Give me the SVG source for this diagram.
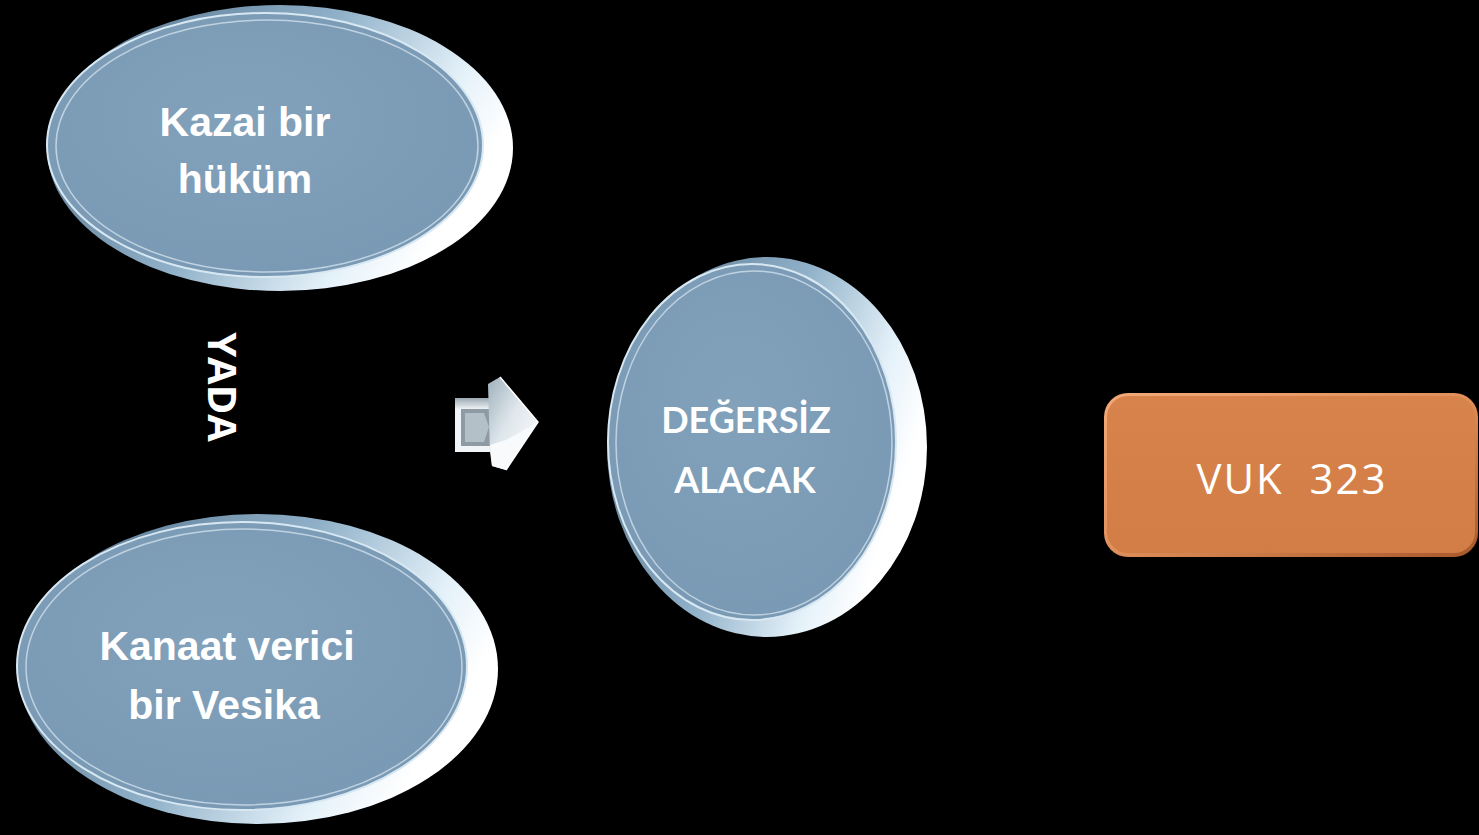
<svg xmlns="http://www.w3.org/2000/svg" width="1479" height="835" viewBox="0 0 1479 835">
<defs>
<linearGradient id="rim" x1="0" y1="0" x2="1" y2="0.4">
<stop offset="0" stop-color="#4d6a84"/>
<stop offset="0.55" stop-color="#8fb0c8"/>
<stop offset="0.85" stop-color="#e4f1f9"/>
<stop offset="1" stop-color="#ffffff"/>
</linearGradient>
<radialGradient id="face" cx="0.45" cy="0.4" r="0.7">
<stop offset="0" stop-color="#82a1bb"/>
<stop offset="1" stop-color="#7898b3"/>
</radialGradient>
<linearGradient id="orange" x1="0" y1="0" x2="0" y2="1">
<stop offset="0" stop-color="#d7834b"/>
<stop offset="1" stop-color="#d27d45"/>
</linearGradient>
<linearGradient id="orangeEdge" x1="0" y1="0" x2="1" y2="1">
<stop offset="0" stop-color="#f3aa78"/>
<stop offset="0.5" stop-color="#e08f5a"/>
<stop offset="1" stop-color="#a8582a"/>
</linearGradient>
<linearGradient id="arrowHead" x1="0" y1="0" x2="1" y2="1">
<stop offset="0" stop-color="#9fb0bc"/>
<stop offset="0.45" stop-color="#dfe7ec"/>
<stop offset="1" stop-color="#ffffff"/>
</linearGradient>
<linearGradient id="shaftTop" x1="0" y1="0" x2="0" y2="1">
<stop offset="0" stop-color="#9aa8b2"/>
<stop offset="1" stop-color="#eef2f4"/>
</linearGradient>
</defs>
<style>
.rim{fill:url(#rim);}
.face{fill:url(#face);stroke:#d8e8f2;stroke-width:2;}
.inner{fill:none;stroke:#cfe0ec;stroke-width:1.5;opacity:0.8;}
.t1{font-family:"Liberation Sans",Arial,sans-serif;font-weight:bold;font-size:41px;fill:#ffffff;text-anchor:middle;}
.t2{font-family:Lato,"Open Sans",sans-serif;font-weight:bold;font-size:36px;fill:#ffffff;text-anchor:middle;}
.t3{font-family:"Open Sans",sans-serif;font-weight:normal;font-size:42px;letter-spacing:2px;fill:#ffffff;text-anchor:middle;}
.t4{font-family:"Open Sans",sans-serif;font-weight:bold;font-size:40px;fill:#ffffff;text-anchor:middle;}
</style>
<rect x="0" y="0" width="1479" height="835" fill="#000000"/>

<g id="node-kazai">
<ellipse class="rim" cx="280" cy="148" rx="233" ry="143"/>
<ellipse class="face" cx="265" cy="145" rx="218" ry="132"/>
<ellipse class="inner" cx="267" cy="146" rx="211" ry="126"/>
<text class="t1" x="245" y="136">Kazai bir</text>
<text class="t1" x="245" y="193">hüküm</text>
</g>

<g id="node-kanaat">
<ellipse class="rim" cx="258" cy="669" rx="240" ry="155"/>
<ellipse class="face" cx="242" cy="666" rx="225" ry="144"/>
<ellipse class="inner" cx="244" cy="667" rx="218" ry="138"/>
<text class="t1" x="227" y="660">Kanaat verici</text>
<text class="t1" x="224" y="719">bir Vesika</text>
</g>

<g id="label-yada">
<text class="t4" transform="translate(222,387) rotate(90)" y="14">YADA</text>
</g>

<g id="connectors">
<g id="arrow">
<rect x="455" y="398" width="37" height="54" fill="#f2f5f7"/>
<rect x="455" y="398" width="37" height="11" fill="url(#shaftTop)"/>
<polygon points="461,409 490,409 490,446 461,446" fill="#8e9ba4"/>
<polygon points="465,413 484,413 489,427 484,442 465,442" fill="#b3c0c8"/>
<polygon points="488,384 500,377 538,422 506,470 492,466 490,452" fill="url(#arrowHead)"/>
<polygon points="490,445 506,440 538,422 506,470 492,466" fill="#f8fafb"/>
<polyline points="500,377 538,422 506,470" fill="none" stroke="#ffffff" stroke-width="1.5"/>
</g>
</g>

<g id="node-degersiz">
<ellipse class="rim" cx="767" cy="447" rx="160" ry="190"/>
<ellipse class="face" cx="752" cy="442" rx="144" ry="178"/>
<ellipse class="inner" cx="754" cy="443" rx="138" ry="172"/>
<text class="t2" x="746" y="433">DEĞERSİZ</text>
<text class="t2" x="745" y="493">ALACAK</text>
</g>

<g id="node-vuk">
<rect x="1104" y="393" width="374" height="164" rx="24" ry="24" fill="url(#orangeEdge)"/>
<rect x="1107" y="396" width="368" height="157" rx="21" ry="21" fill="url(#orange)"/>
<text class="t3" x="1292" y="494" xml:space="preserve">VUK  323</text>
</g>
</svg>
